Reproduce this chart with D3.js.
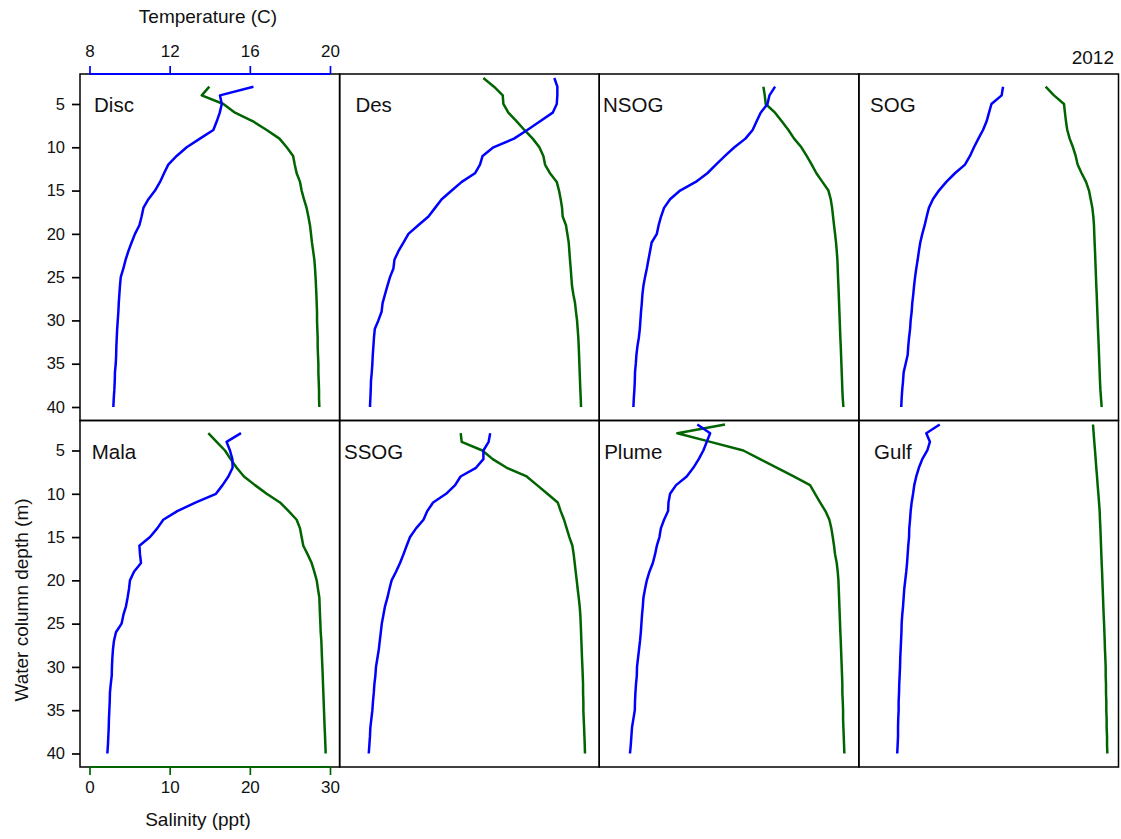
<!DOCTYPE html>
<html>
<head>
<meta charset="utf-8">
<script src="https://cdn.jsdelivr.net/npm/d3@7"></script>
<style>
  html, body { margin: 0; padding: 0; background: #ffffff; }
  svg { display: block; font-family: "Liberation Sans", Arial, Helvetica, sans-serif; }
</style>
</head>
<body>
<svg id="chart" width="1121" height="839"></svg>
<script>
// Station names, in panel order (left to right, top row first)
const sites = ["Disc", "Des", "NSOG", "SOG", "Mala", "SSOG", "Plume", "Gulf"];
// Shallowest sampled depth (m) of each cast; casts run in 1 m steps to 40 m
const firstDepth = [3, 2, 3, 3, 3, 3, 2, 2];
const lastDepth = 40;

// Temperature profiles (C)
const tempDisc = [16.18,14.51,14.6,14.5,14.35,14.18,13.51,12.85,12.35,11.93,11.72,11.52,11.27,10.94,10.69,10.6,10.49,10.27,10.1,9.94,9.8,9.69,9.56,9.52,9.49,9.46,9.44,9.41,9.38,9.36,9.34,9.33,9.31,9.27,9.26,9.24,9.21,9.19];
const tempDes = [18.24,18.39,18.39,18.36,18.16,17.53,16.89,16.23,15.2,14.66,14.53,14.28,13.62,13.12,12.62,12.29,11.96,11.45,10.96,10.71,10.46,10.26,10.21,10.04,9.91,9.79,9.67,9.62,9.46,9.28,9.24,9.21,9.18,9.16,9.13,9.09,9.08,9.06,9.04];
const tempNSOG = [16.3,16.02,15.92,15.58,15.38,15.18,14.82,14.27,13.8,13.35,12.92,12.34,11.56,11.06,10.76,10.61,10.49,10.4,10.14,10.06,9.98,9.9,9.81,9.73,9.68,9.65,9.61,9.58,9.55,9.5,9.43,9.38,9.35,9.31,9.3,9.28,9.25,9.23];
const tempSOG = [14.72,14.65,14.14,14.02,13.9,13.72,13.49,13.27,13.07,12.82,12.32,11.89,11.52,11.22,11.02,10.91,10.81,10.69,10.59,10.52,10.46,10.39,10.33,10.28,10.24,10.19,10.16,10.11,10.08,10.03,9.99,9.96,9.86,9.76,9.73,9.69,9.66,9.64];
const tempMala = [15.56,14.84,15.01,15.13,15.14,14.93,14.64,14.31,13.31,12.38,11.68,11.38,11.02,10.49,10.52,10.57,10.22,10.02,9.97,9.9,9.82,9.69,9.6,9.32,9.22,9.17,9.14,9.12,9.11,9.06,9.02,9.01,8.99,8.97,8.96,8.94,8.92,8.89];
const tempSSOG = [15.04,14.96,14.7,14.7,14.33,13.56,13.29,12.84,12.19,11.9,11.71,11.34,11.04,10.87,10.71,10.54,10.34,10.12,10.01,9.91,9.79,9.71,9.63,9.58,9.53,9.48,9.41,9.34,9.31,9.26,9.23,9.19,9.16,9.11,9.06,9.04,9.01,8.98];
const tempPlume = [12.42,13.06,12.89,12.72,12.49,12.22,11.89,11.36,11.06,10.98,10.96,10.76,10.6,10.53,10.4,10.31,10.2,10.03,9.9,9.81,9.73,9.7,9.66,9.63,9.6,9.56,9.51,9.46,9.41,9.4,9.36,9.33,9.31,9.3,9.23,9.16,9.13,9.1,9.06];
const tempGulf = [11.56,10.89,11.07,10.94,10.69,10.52,10.39,10.29,10.23,10.16,10.11,10.08,10.04,10.03,9.99,9.96,9.93,9.89,9.84,9.79,9.76,9.73,9.69,9.66,9.65,9.63,9.61,9.59,9.58,9.56,9.54,9.53,9.51,9.51,9.49,9.48,9.48,9.46,9.44];

// Salinity profiles (ppt)
const salDisc = [14.95,14.0,16.7,18.15,20.4,22.1,23.7,24.6,25.4,25.6,25.84,26.26,26.46,26.75,27.08,27.3,27.5,27.63,27.75,27.9,28.05,28.13,28.2,28.25,28.3,28.34,28.38,28.38,28.42,28.46,28.46,28.5,28.55,28.55,28.59,28.63,28.63,28.67];
const salDes = [16.74,18.07,19.16,19.24,19.86,20.9,21.86,22.9,23.73,24.23,24.44,25.06,25.9,26.18,26.39,26.56,26.64,27.05,27.22,27.39,27.47,27.55,27.64,27.72,27.8,27.97,28.18,28.3,28.43,28.51,28.59,28.64,28.68,28.72,28.76,28.8,28.84,28.89,28.93];
const salNSOG = [19.29,19.46,19.58,20.74,21.58,22.41,23.12,24.03,24.69,25.32,25.9,26.65,27.4,27.69,27.86,27.98,28.1,28.23,28.35,28.44,28.52,28.56,28.6,28.65,28.69,28.73,28.77,28.81,28.85,28.89,28.94,28.98,29.02,29.06,29.1,29.14,29.19,29.27];
const salSOG = [22.11,23.15,24.4,24.52,24.65,24.81,25.11,25.52,25.86,26.1,26.6,27.15,27.52,27.73,27.94,28.06,28.14,28.18,28.22,28.27,28.31,28.35,28.39,28.43,28.48,28.52,28.56,28.6,28.64,28.69,28.73,28.77,28.81,28.85,28.89,28.94,29.02,29.1];
const salMala = [14.82,15.86,16.9,17.6,18.36,19.27,20.64,22.1,23.76,24.84,25.84,26.26,26.46,26.67,27.21,27.71,28.04,28.34,28.5,28.67,28.71,28.75,28.8,28.84,28.92,28.96,29.0,29.05,29.09,29.13,29.17,29.21,29.25,29.29,29.33,29.38,29.42,29.46];
const salSSOG = [13.92,14.04,16.62,17.91,19.66,22.15,23.44,24.73,26.02,26.39,26.81,27.14,27.47,27.85,28.01,28.14,28.26,28.39,28.51,28.64,28.76,28.84,28.89,28.93,28.97,29.01,29.05,29.1,29.14,29.18,29.18,29.22,29.22,29.26,29.31,29.35,29.39,29.42];
const salPlume = [14.5,8.56,12.68,16.79,18.87,21.0,23.07,25.11,25.74,26.36,27.03,27.52,27.77,27.94,28.1,28.23,28.44,28.56,28.65,28.69,28.73,28.77,28.81,28.85,28.89,28.94,28.98,29.02,29.06,29.1,29.14,29.14,29.19,29.23,29.23,29.27,29.31,29.35,29.39];
const salGulf = [28.02,28.1,28.18,28.27,28.35,28.43,28.52,28.6,28.69,28.77,28.85,28.89,28.94,28.98,29.02,29.06,29.1,29.15,29.19,29.23,29.27,29.31,29.35,29.4,29.44,29.48,29.51,29.56,29.6,29.6,29.64,29.64,29.68,29.68,29.72,29.72,29.77,29.77,29.81];

const tempSeries = [tempDisc, tempDes, tempNSOG, tempSOG, tempMala, tempSSOG, tempPlume, tempGulf];
const salSeries = [salDisc, salDes, salNSOG, salSOG, salMala, salSSOG, salPlume, salGulf];

// Axis ticks and labels
const tempTicks = [8, 12, 16, 20];
const salTicks = [0, 10, 20, 30];
const depthTicks = [5, 10, 15, 20, 25, 30, 35, 40];
const yearLabel = "2012";

// ---- layout ----
const svg = d3.select("#chart");
const plotLeft = 80, plotTop = 74, plotRight = 1118.5, plotBottom = 767;
const nCol = 4, nRow = 2;
const panelW = (plotRight - plotLeft) / nCol;
const panelH = (plotBottom - plotTop) / nRow;

const tempColor = "#0000ff";
const salColor = "#006400";
const fontStack = "'Liberation Sans', Arial, Helvetica, sans-serif";

// Shared panel scales (panel-local pixel coordinates)
const xTemp = d3.scaleLinear().domain([7.526, 20.481]).range([0, panelW]);
const xSal = d3.scaleLinear().domain([-1.185, 31.2]).range([0, panelW]);
const yDepth = d3.scaleLinear().domain([1.535, 41.56]).range([0, panelH]);

svg.append("rect").attr("width", 1121).attr("height", 839).attr("fill", "#fff");

const plot = svg.append("g").attr("transform", `translate(${plotLeft},${plotTop})`);

const profiles = sites.map((name, i) => {
  const depths = d3.range(firstDepth[i], lastDepth + 1);
  return {
    name,
    col: i % nCol,
    row: Math.floor(i / nCol),
    temp: tempSeries[i].map((v, k) => ({ depth: depths[k], v })),
    sal: salSeries[i].map((v, k) => ({ depth: depths[k], v }))
  };
});

const tempLine = d3.line().x(d => xTemp(d.v)).y(d => yDepth(d.depth));
const salLine = d3.line().x(d => xSal(d.v)).y(d => yDepth(d.depth));

const panels = plot.selectAll("g.panel")
  .data(profiles)
  .join("g")
  .attr("class", "panel")
  .attr("transform", d => `translate(${d.col * panelW},${d.row * panelH})`);

panels.append("path")
  .attr("d", d => salLine(d.sal))
  .attr("fill", "none")
  .attr("stroke", salColor)
  .attr("stroke-width", 2.5)
  .attr("stroke-linejoin", "round");

panels.append("path")
  .attr("d", d => tempLine(d.temp))
  .attr("fill", "none")
  .attr("stroke", tempColor)
  .attr("stroke-width", 2.5)
  .attr("stroke-linejoin", "round");

panels.append("rect")
  .attr("width", panelW)
  .attr("height", panelH)
  .attr("fill", "none")
  .attr("stroke", "#000")
  .attr("stroke-width", 1.5);

panels.append("text")
  .attr("x", 34)
  .attr("y", 38)
  .attr("text-anchor", "middle")
  .attr("font-size", 20.5)
  .attr("fill", "#111")
  .text(d => d.name);

// ---- axes ----
function styleAxis(g, color, size) {
  g.attr("font-size", size).attr("font-family", fontStack);
  g.select(".domain").remove();
  g.selectAll(".tick line").attr("stroke", color).attr("stroke-width", 1.7);
  g.selectAll(".tick text").attr("fill", "#111").style("font-size", size + "px");
}

// Temperature axis on top of the first panel
const topAxis = plot.append("g")
  .call(d3.axisTop(xTemp).tickValues(tempTicks).tickSize(8).tickPadding(9.5).tickFormat(d3.format("d")))
  .call(g => styleAxis(g, tempColor, 17));
topAxis.append("line")
  .attr("x1", xTemp(tempTicks[0])).attr("x2", xTemp(tempTicks[tempTicks.length - 1]))
  .attr("y1", 0).attr("y2", 0)
  .attr("stroke", tempColor).attr("stroke-width", 2);

// Salinity axis under the first panel of the bottom row
const bottomAxis = plot.append("g")
  .attr("transform", `translate(0,${nRow * panelH})`)
  .call(d3.axisBottom(xSal).tickValues(salTicks).tickSize(8).tickPadding(6).tickFormat(d3.format("d")))
  .call(g => styleAxis(g, salColor, 17));
bottomAxis.append("line")
  .attr("x1", xSal(salTicks[0])).attr("x2", xSal(salTicks[salTicks.length - 1]))
  .attr("y1", 0).attr("y2", 0)
  .attr("stroke", salColor).attr("stroke-width", 2);

// Depth axis for each row
for (let r = 0; r < nRow; r++) {
  plot.append("g")
    .attr("transform", `translate(0,${r * panelH})`)
    .call(d3.axisLeft(yDepth).tickValues(depthTicks).tickSize(8).tickPadding(7))
    .call(g => styleAxis(g, "#000", 16.5));
}

// ---- titles ----
svg.append("text")
  .attr("x", 208).attr("y", 23)
  .attr("text-anchor", "middle").attr("font-size", 19).attr("fill", "#111")
  .text("Temperature (C)");

svg.append("text")
  .attr("x", 198).attr("y", 826)
  .attr("text-anchor", "middle").attr("font-size", 19).attr("fill", "#111")
  .text("Salinity (ppt)");

svg.append("text")
  .attr("transform", "translate(27.5,600) rotate(-90)")
  .attr("text-anchor", "middle").attr("font-size", 19).attr("fill", "#111")
  .text("Water column depth (m)");

svg.append("text")
  .attr("x", 1114).attr("y", 64)
  .attr("text-anchor", "end").attr("font-size", 19).attr("fill", "#111")
  .text(yearLabel);
</script>
</body>
</html>
